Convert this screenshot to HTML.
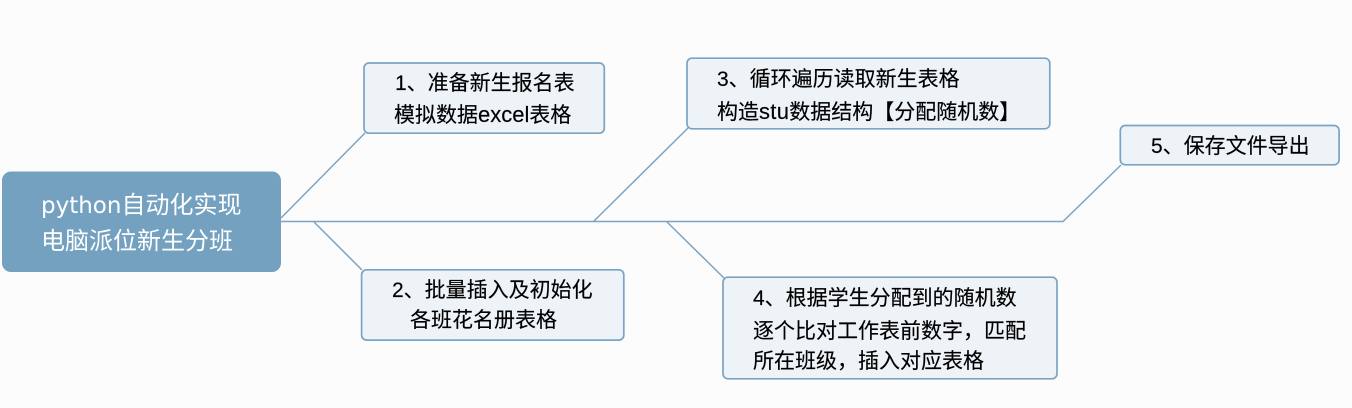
<!DOCTYPE html>
<html><head><meta charset="utf-8"><style>
html,body{margin:0;padding:0;width:1352px;height:408px;overflow:hidden;background:#fcfcfc}
body{position:relative;font-family:"Liberation Sans","Noto Sans CJK SC",sans-serif}
svg{position:absolute;left:0;top:0}
.t{position:absolute;white-space:nowrap;font-size:21px;line-height:31px;color:#000;-webkit-text-stroke:.15px #000}
.w{color:#fff;font-size:24px;line-height:36px;-webkit-text-stroke:0}
.l{font-size:22px}
.d{font-family:"DejaVu Sans",sans-serif;font-size:23px}
</style></head><body>
<svg width="1352" height="408" fill="none" stroke="#7ba4c4" stroke-width="1.5">
<path d="M281 221.5H1063L1121 165"/>
<path d="M281 218L365 133"/>
<path d="M594 221L688 128"/>
<path d="M314 222L362 270"/>
<path d="M667 222L724 278"/>
<rect x="2" y="171.5" width="279" height="100.5" rx="9" fill="#73a1bf" stroke="none"/>
<g fill="#eef3f7" stroke-width="1.7">
<rect x="364" y="63" width="240.3" height="70.2" rx="5"/>
<rect x="361.6" y="269.8" width="262.2" height="70.3" rx="5"/>
<rect x="687" y="58.2" width="362.8" height="70.6" rx="5"/>
<rect x="723" y="277.2" width="334" height="101.6" rx="5"/>
<rect x="1120.3" y="125.5" width="218.8" height="39.3" rx="5"/>
</g>
</svg>
<div class="t w" style="left:41px;top:188px"><span class="d">python</span>自动化实现</div>
<div class="t w" style="left:41px;top:224px">电脑派位新生分班</div>
<div class="t" style="left:395px;top:68px">1、准备新生报名表</div>
<div class="t" style="left:394px;top:99px">模拟数据<span class="l">excel</span>表格</div>
<div class="t" style="left:717px;top:64px">3、循环遍历读取新生表格</div>
<div class="t" style="left:717px;top:96px">构造<span class="l" style="letter-spacing:.3px">stu</span>数据结构【分配随机数】</div>
<div class="t" style="left:392px;top:275px">2、批量插入及初始化</div>
<div class="t" style="left:410px;top:305px">各班花名册表格</div>
<div class="t" style="left:753px;top:283px">4、根据学生分配到的随机数</div>
<div class="t" style="left:753px;top:316px">逐个比对工作表前数字，匹配</div>
<div class="t" style="left:753px;top:346px">所在班级，插入对应表格</div>
<div class="t" style="left:1151px;top:131px">5、保存文件导出</div>
</body></html>
